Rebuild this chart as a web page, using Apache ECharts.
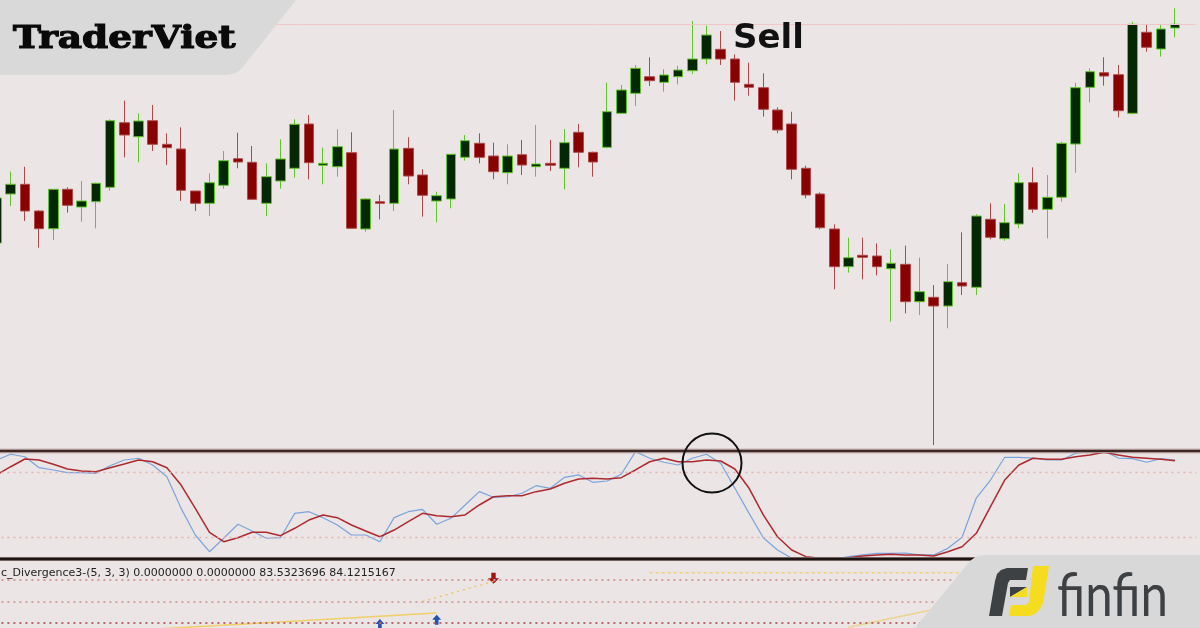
<!DOCTYPE html>
<html><head><meta charset="utf-8">
<script src="https://cdn.jsdelivr.net/npm/echarts@6/dist/echarts.min.js"></script>
<style>html,body{margin:0;padding:0;background:#ebe5e5;}#c{width:1200px;height:628px;}</style>
</head><body><div id="c"></div>
<script>
// Price candles (price levels, arbitrary points)
const opens = [207,256,265.7,239,221.3,260.7,243,248.3,262.7,327.3,
 313.3,329.3,305.7,301,259,246.7,264.7,291.3,287.7,246.7,
 269,281.7,326,284.7,283.3,297.3,221,248.3,246.7,301.7,
 275,249,251,292.7,306.7,294,277.3,295.3,283.3,286.7,
 281.7,317.7,297.7,302.7,336.7,356.7,373.3,367.7,373.3,379.3,
 391,400.7,391,365.7,362.3,340,326,281.7,256,221,
 183.3,194.7,194,181.3,185.7,148.3,152.7,144,167.3,162.7,
 230.7,211.3,226,267.3,240.7,252.7,306,362.7,377.3,375.3,
 336.7,417.7,401,422];
const closes = [252,265.7,239,221.3,260.7,244.7,249,266.7,329.3,315,
 329,305.7,302.3,259.7,246.7,267.3,289.3,288,250.7,273.3,
 291,325.7,287.3,286.7,303.3,221.7,251,246.7,301,274,
 254.7,254.3,295.7,309.3,292.7,278.3,294,285,286,284.7,
 307.3,297.7,288,338.3,360,381.7,369.3,375,380,391,
 415,391,367.7,362.7,340.7,320,280.7,255,222.3,183.3,
 192.3,192.7,183.3,186.7,148.3,158.3,144,168.3,164,234,
 212.7,227.3,267.3,240.7,252.7,306.7,362.3,378.3,374,339.3,
 425.7,402.7,421,425.7];
const lows = [205,244,229,202.3,210,237.3,228.3,221.7,259.3,292.7,
 287.7,299,285,249,239,234,261.3,281.7,250,234,
 261.3,272.3,270.7,265.7,273.3,221.7,218.3,230.7,239,265.7,
 233.3,227.7,241.7,289.3,286.7,270.7,265.7,275,273.3,279,
 260.7,282.7,273.3,301.7,336.7,344,364,358.3,365.7,376,
 385.7,385,349.3,354.3,333.3,316.7,270.7,251.7,220.7,160.7,
 177.3,170.7,174.7,128.3,136.7,135,5,121.7,155,155,
 210.7,209.3,221.7,237.3,211.7,248.3,277.3,347.7,364.3,332.7,
 335.7,398.3,393.3,412.7];
const highs = [258,278.3,283.3,240,261,262.7,269,267.3,330.7,349.3,
 336.7,345,316.7,322.7,259,276.7,299,317.3,304,286.7,
 310.7,330.7,335,302.3,320.7,317.7,251.7,255,340,312.7,
 280.7,258.3,296,315,316.7,307.3,305.7,310,325,310,
 321,326,298.3,367.3,365,385,392.7,380.7,384.3,429,
 424.3,419,395.7,387.3,376.7,342.7,338.3,284.3,257.7,225.7,
 212.3,212.3,206.7,200.7,204.3,192.3,165,186,217.7,235.7,
 246.7,246,276.7,282.7,275,308.3,367.3,381.7,392.7,385,
 428.3,426,425,441.7];
const resistanceLevel = 426;

// Stochastic (5,3,3)
const stochK = [91.7,97.0,94.7,84.6,82.5,80.0,80.0,79.4,86.4,91.7,
 93.3,87.1,76.3,47.1,22.5,7.1,19.5,32.4,26.2,19.5,
 20.0,42.5,44.0,38.5,31.7,22.5,22.5,16.3,38.5,44.0,
 46.2,32.4,37.9,50.2,62.5,57.3,57.8,61.0,68.0,65.6,
 75.7,77.9,71.1,72.3,78.5,99.4,93.3,89.6,87.1,93.3,
 97.0,88.7,65.6,42.5,20.0,8.7,1.0,0,0,0,
 2.5,4.1,5.6,5.6,5.9,4.1,4.1,10.2,20.4,56.6,
 73.2,94.2,94.2,93.5,91.7,91.7,97.9,99.4,100,93.5,
 92.9,89.6,92.9,91.7];
const stochD = [77.9,85.5,92.6,91.7,87.7,83.4,81.5,80.9,84.6,88.0,
 91.7,90.1,84.6,68.6,47.1,25.0,16.3,20.0,25.0,25.0,
 21.9,28.7,36.3,41.0,38.5,31.7,26.2,20.9,27.1,34.8,
 42.5,40.3,39.4,41.0,50.2,57.8,58.8,58.8,62.5,64.9,
 70.2,74.2,74.8,74.2,75.4,82.5,90.1,93.3,90.1,90.1,
 91.7,90.8,83.4,65.6,41.0,20.9,8.7,2.5,1.0,1.0,
 1.6,3.1,4.1,4.7,4.1,4.1,3.1,7.1,11.7,24.1,
 48.6,73.2,87.1,93.3,92.3,92.3,94.7,96.3,98.8,96.3,
 94.2,93.3,92.3,91.1];
const stochLevels = [80, 20];

// Divergence indicator panel
const divLevels = [80, 50, 20];
const divLineA = [[8, 8], [31, 34]];
const divLineB = [[30, 50], [35, 78]];
const divLineC = [[46, 90], [70, 90]];
const divLineD = [[60, 14], [66, 39]];
const sellArrows = [[35, 82.5]];
const buyArrows = [[27, 18.5], [31, 24.5]];
const divLabel = 'c_Divergence3-(5, 3, 3) 0.0000000 0.0000000 83.5323696 84.1215167';

const chart = echarts.init(document.getElementById('c'), null, {renderer: 'canvas'});
const cats = opens.map((_, i) => String(i + 1)).concat(['']);
const ohlc = opens.map((o, i) => [o, closes[i], lows[i], highs[i]]);
const L = -10.6, W = 1207;
const hiddenY = (g, min, max) => ({type: 'value', gridIndex: g, min: min, max: max, show: false, splitLine: {show: false}});

const option = {
  animation: false,
  backgroundColor: '#ebe5e5',
  grid: [
    {left: L, width: W, top: 0, height: 450, outerBoundsMode: 'none', containLabel: false},
    {left: L, width: W, top: 451, height: 108.4, outerBoundsMode: 'none', containLabel: false},
    {left: L, width: W, top: 565.6, height: 71.8, outerBoundsMode: 'none', containLabel: false}
  ],
  xAxis: [0, 1, 2].map(g => ({type: 'category', gridIndex: g, data: cats, show: false, boundaryGap: true})),
  yAxis: [hiddenY(0, 0, 450), hiddenY(1, 0, 100), hiddenY(2, 0, 100)],
  series: [
    {
      type: 'candlestick', xAxisIndex: 0, yAxisIndex: 0, data: ohlc, barWidth: 10,
      itemStyle: {color: '#042804', color0: '#880202', borderColor: '#62c52a', borderColor0: '#b04a4a', borderWidth: 1},
      markLine: {silent: true, symbol: ['none', 'none'], label: {show: false},
        lineStyle: {color: '#f1c6c6', width: 1, type: 'solid'},
        data: [{yAxis: resistanceLevel}]}
    },
    {
      type: 'line', xAxisIndex: 1, yAxisIndex: 1, data: stochK, symbol: 'none',
      lineStyle: {color: '#7aa4de', width: 1.2},
      markLine: {silent: true, symbol: ['none', 'none'], label: {show: false},
        lineStyle: {color: '#e3b3b3', width: 1.3, type: [2, 4]},
        data: stochLevels.map(v => ({yAxis: v}))}
    },
    {
      type: 'line', xAxisIndex: 1, yAxisIndex: 1, data: stochD, symbol: 'none',
      lineStyle: {color: '#ad2a2e', width: 1.5}
    },
    {
      type: 'line', xAxisIndex: 2, yAxisIndex: 2, data: divLineA, symbol: 'none',
      lineStyle: {color: '#efcf66', width: 1.5},
      markLine: {silent: true, symbol: ['none', 'none'], label: {show: false},
        data: divLevels.map((v, i) => ({yAxis: v, lineStyle: {color: ['#cf9d9d', '#d6a3a3', '#b86a6a'][i], width: 2, type: [2, 4]}}))}
    },
    {
      type: 'line', xAxisIndex: 2, yAxisIndex: 2, data: divLineB, symbol: 'none',
      lineStyle: {color: '#eec66a', width: 1.5, type: [2, 4]}
    },
    {
      type: 'line', xAxisIndex: 2, yAxisIndex: 2, data: divLineC, symbol: 'none',
      lineStyle: {color: '#efd07e', width: 1.5, type: [3, 3]}
    },
    {
      type: 'line', xAxisIndex: 2, yAxisIndex: 2, data: divLineD, symbol: 'none',
      lineStyle: {color: '#edd38e', width: 1.5}
    },
    {
      type: 'scatter', xAxisIndex: 2, yAxisIndex: 2, data: sellArrows,
      symbol: 'path://M3,0L7,0L7,5L10,5L5,10L0,5L3,5Z', symbolSize: [11, 11],
      itemStyle: {color: '#a3120e', opacity: 1}
    },
    {
      type: 'scatter', xAxisIndex: 2, yAxisIndex: 2, data: buyArrows,
      symbol: 'path://M5,0L10,5L7,5L7,10L3,10L3,5L0,5Z', symbolSize: [9, 10],
      itemStyle: {color: '#2352b0', opacity: 1}
    }
  ],
  graphic: [
    {type: 'line', z: 50, shape: {x1: 0, y1: 451, x2: 1200, y2: 451}, style: {stroke: '#a8918e', lineWidth: 4.5}},
    {type: 'line', z: 51, shape: {x1: 0, y1: 451, x2: 1200, y2: 451}, style: {stroke: '#3c2825', lineWidth: 2.2}},
    {type: 'line', z: 50, shape: {x1: 0, y1: 559, x2: 1200, y2: 559}, style: {stroke: '#8e7a78', lineWidth: 3.8}},
    {type: 'line', z: 51, shape: {x1: 0, y1: 559, x2: 1200, y2: 559}, style: {stroke: '#1e1412', lineWidth: 2.4}},
    {type: 'text', z: 60, x: 1, y: 573, style: {text: divLabel, font: '11px "DejaVu Sans"', fill: '#222222', textVerticalAlign: 'middle'}},
    {type: 'circle', z: 60, shape: {cx: 712, cy: 463, r: 29.5}, style: {fill: 'none', stroke: '#111111', lineWidth: 2}},
    {type: 'text', z: 60, x: 733, y: 39, style: {text: 'Sell', font: 'bold 34px "DejaVu Sans"', fill: '#111111', textVerticalAlign: 'middle'}},
    {type: 'polygon', z: 100, shape: {points: [[0, 0], [296, 0], [242, 68], [236, 73], [228, 75], [0, 75]]}, style: {fill: '#d9d9d9'}},
    {type: 'text', z: 101, x: 13, y: 40, scaleX: 1.17, style: {text: 'TraderViet', font: 'bold 32px "DejaVu Serif"', fill: '#0a0a0a', stroke: '#0a0a0a', lineWidth: 1.2, textVerticalAlign: 'middle'}},
    {type: 'polygon', z: 100, shape: {points: [[915, 628], [970, 561], [976, 556.5], [984, 555], [1200, 555], [1200, 628]]}, style: {fill: '#d8d8d8'}},
    {type: 'polygon', z: 101, shape: {points: [[989, 616], [995, 581], [997, 574], [1001, 570], [1007, 568], [1028, 568], [1026, 580], [1010, 580], [1008, 583], [1002, 616]]}, style: {fill: '#3e4143'}},
    {type: 'polygon', z: 101, shape: {points: [[1010, 587], [1027, 587], [1010, 597]]}, style: {fill: '#3e4143'}},
    {type: 'polygon', z: 101, shape: {points: [[1027, 587], [1027, 597], [1010, 597]]}, style: {fill: '#f6dc1e'}},
    {type: 'polygon', z: 101, shape: {points: [[1033, 566], [1049, 566], [1043, 603], [1040, 609], [1035, 614], [1029, 616], [1009, 616], [1011, 605], [1026, 605], [1029, 602]]}, style: {fill: '#f6dc1e'}},
    {type: 'text', z: 101, x: 1057, y: 597, scaleX: 0.82, style: {text: 'finfin', font: '60px Lato', fill: '#3e4143', textVerticalAlign: 'middle'}}
  ]
};
chart.setOption(option);
</script>
</body></html>
